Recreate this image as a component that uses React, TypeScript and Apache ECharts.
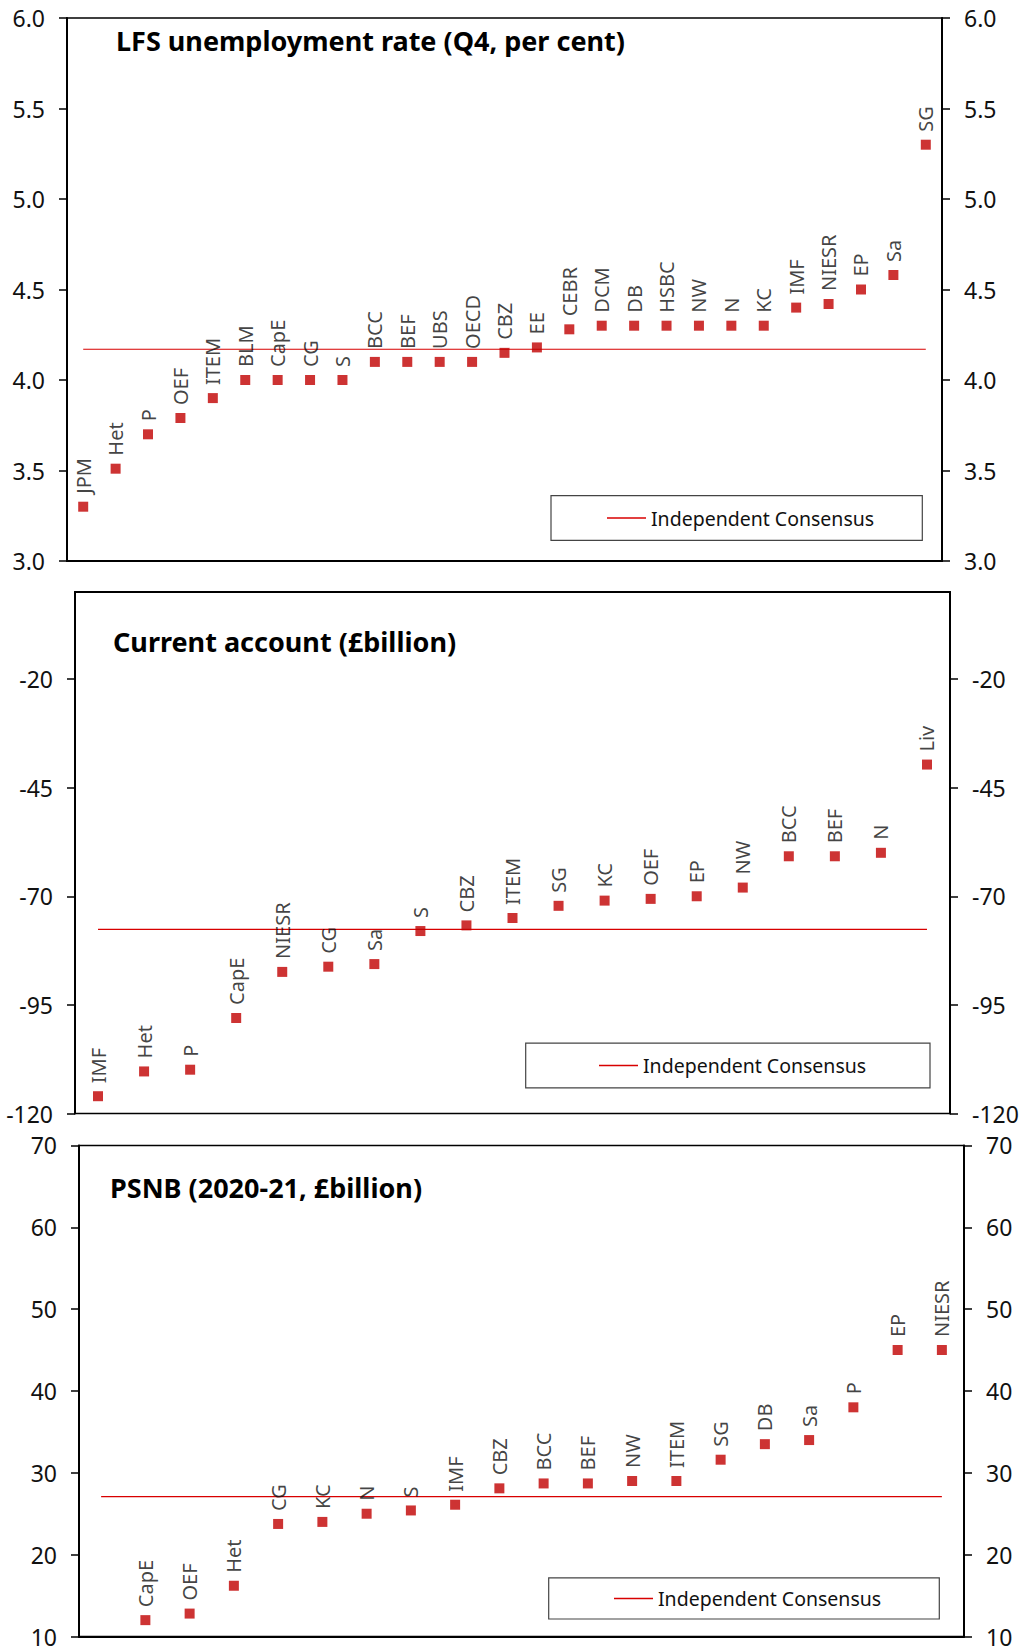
import React, { useEffect, useRef } from 'react';
import * as echarts from 'echarts';

// ---- Panel 1: LFS unemployment rate (Q4, per cent)
const unempCategories = ['JPM', 'Het', 'P', 'OEF', 'ITEM', 'BLM', 'CapE', 'CG', 'S', 'BCC', 'BEF', 'UBS', 'OECD', 'CBZ', 'EE', 'CEBR', 'DCM', 'DB', 'HSBC', 'NW', 'N', 'KC', 'IMF', 'NIESR', 'EP', 'Sa', 'SG'];
const unempValues = [3.30, 3.51, 3.70, 3.79, 3.90, 4.00, 4.00, 4.00, 4.00, 4.10, 4.10, 4.10, 4.10, 4.15, 4.18, 4.28, 4.30, 4.30, 4.30, 4.30, 4.30, 4.30, 4.40, 4.42, 4.50, 4.58, 5.30];
const unempConsensus = 4.17;
const unempTicks = [3.0, 3.5, 4.0, 4.5, 5.0, 5.5, 6.0];

// ---- Panel 2: Current account (£billion)
const caCategories = ['IMF', 'Het', 'P', 'CapE', 'NIESR', 'CG', 'Sa', 'S', 'CBZ', 'ITEM', 'SG', 'KC', 'OEF', 'EP', 'NW', 'BCC', 'BEF', 'N', 'Liv'];
const caValues = [-116, -110.3, -109.9, -98, -87.4, -86.2, -85.6, -78, -76.7, -75, -72.2, -71, -70.6, -70, -68, -60.8, -60.8, -60, -39.7];
const caConsensus = -77.6;
const caTicks = [-120, -95, -70, -45, -20];

// ---- Panel 3: PSNB (2020-21, £billion)
const psnbCategories = ['', 'CapE', 'OEF', 'Het', 'CG', 'KC', 'N', 'S', 'IMF', 'CBZ', 'BCC', 'BEF', 'NW', 'ITEM', 'SG', 'DB', 'Sa', 'P', 'EP', 'NIESR'];
const psnbValues = [null, 12.0, 12.8, 16.2, 23.75, 24.0, 25.0, 25.4, 26.1, 28.1, 28.7, 28.7, 29.0, 29.0, 31.6, 33.5, 34.0, 38.0, 45.0, 45.0];
const psnbConsensus = 27.1;
const psnbTicks = [10, 20, 30, 40, 50, 60, 70];

const titles = ['LFS unemployment rate (Q4, per cent)', 'Current account (£billion)', 'PSNB (2020-21, £billion)'];
const legendName = 'Independent Consensus';

const FONT = 'Noto Sans';
const MARK = '#c00000';
const LINE = '#d80000';
const TEXT = '#111';

export default function App() {
  const ref = useRef<HTMLDivElement>(null);
  useEffect(() => {
    if (!ref.current) return;
    const chart = echarts.init(ref.current, undefined, { renderer: 'svg' });

    const panels = [
      { cats: unempCategories, vals: unempValues, cons: unempConsensus, ticks: unempTicks, min: 3, max: 6, fmt: (v: number) => v.toFixed(1),
        grid: { left: 67, top: 18, width: 875, height: 543 }, title: { left: 116, top: 27 },
        legend: { left: 607, top: 506 }, box: { x: 551, y: 495.7, width: 371.3, height: 44.7 } },
      { cats: caCategories, vals: caValues, cons: caConsensus, ticks: caTicks, min: -120, max: 0, fmt: (v: number) => String(v),
        grid: { left: 75, top: 592, width: 875, height: 521.6 }, title: { left: 113, top: 628 },
        legend: { left: 599, top: 1053.5 }, box: { x: 525.7, y: 1043.2, width: 404.3, height: 44.7 } },
      { cats: psnbCategories, vals: psnbValues, cons: psnbConsensus, ticks: psnbTicks, min: 10, max: 70, fmt: (v: number) => String(v),
        grid: { left: 79, top: 1145.4, width: 885, height: 492.2 }, title: { left: 110, top: 1174 },
        legend: { left: 614, top: 1586.4 }, box: { x: 548.7, y: 1577.8, width: 390.6, height: 41.2 } },
    ];

    const yAxis = (i: number, p: any, position: 'left' | 'right') => ({
      type: 'value', gridIndex: i, position, min: p.min, max: p.max,
      axisLine: { show: true, lineStyle: { color: '#000', width: 2 } },
      axisTick: { show: true, inside: false, length: 8, lineStyle: { color: '#000', width: 1.5 }, customValues: p.ticks },
      axisLabel: { show: true, margin: 22, fontSize: 23, fontFamily: FONT, color: TEXT, customValues: p.ticks, formatter: p.fmt },
      splitLine: { show: false },
    });

    const option: any = {
      animation: false,
      backgroundColor: '#fff',
      textStyle: { fontFamily: FONT },
      title: panels.map((p, i) => ({
        text: titles[i], left: p.title.left, top: p.title.top, padding: 0,
        textStyle: { fontFamily: FONT, fontSize: 27, fontWeight: 'bold', color: '#000' },
      })),
      grid: panels.map((p) => ({ ...p.grid, show: true, borderColor: '#000', borderWidth: 1.5, backgroundColor: 'transparent', containLabel: false })),
      xAxis: panels.map((p, i) => ({
        type: 'category', gridIndex: i, data: p.cats, boundaryGap: true,
        axisLine: { show: true, lineStyle: { color: '#000', width: 2 } },
        axisTick: { show: false }, axisLabel: { show: false }, splitLine: { show: false },
      })),
      yAxis: panels.flatMap((p, i) => [yAxis(i, p, 'left'), yAxis(i, p, 'right')]),
      legend: panels.map((p) => ({
        left: p.legend.left, top: p.legend.top, padding: 0, orient: 'horizontal',
        icon: 'rect', itemWidth: 39, itemHeight: 1.5, itemGap: 0,
        data: [legendName], selectedMode: false,
        textStyle: { fontFamily: FONT, fontSize: 19.5, color: TEXT, lineHeight: 24 },
      })),
      graphic: panels.map((p) => ({
        type: 'rect', shape: { ...p.box }, z: 1,
        style: { fill: 'none', stroke: '#444', lineWidth: 1.2 },
      })),
      series: panels.flatMap((p, i) => [
        {
          type: 'line', name: legendName, xAxisIndex: i, yAxisIndex: 2 * i,
          data: p.cats.map(() => p.cons), symbol: 'none', showSymbol: false,
          lineStyle: { color: LINE, width: 1.2 }, itemStyle: { color: LINE }, z: 2,
        },
        {
          type: 'scatter', name: 'forecasts' + i, xAxisIndex: i, yAxisIndex: 2 * i,
          data: p.vals, symbol: 'rect', symbolSize: 10, itemStyle: { color: MARK }, z: 3,
          label: {
            show: true, position: 'top', rotate: 90, align: 'left', verticalAlign: 'middle', distance: 8,
            fontFamily: FONT, fontSize: 20, color: TEXT,
            formatter: (prm: any) => prm.name,
          },
        },
      ]),
    };
    chart.setOption(option);
    return () => chart.dispose();
  }, []);

  return <div ref={ref} style={{ position: 'absolute', left: 0, top: 0, width: 1024, height: 1648 }} />;
}
